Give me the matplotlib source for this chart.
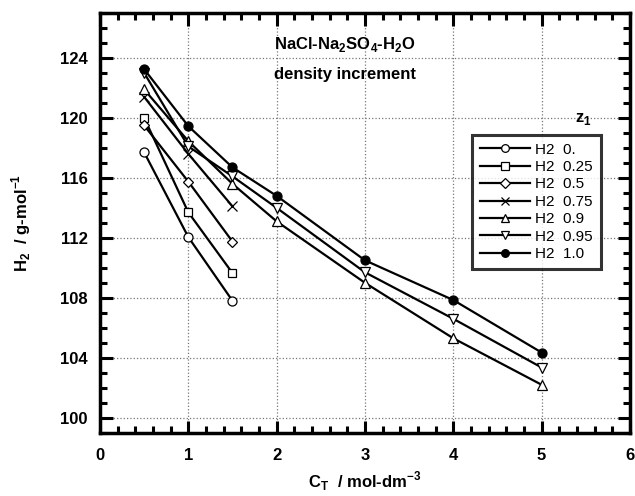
import matplotlib
matplotlib.use("Agg")
import matplotlib.pyplot as plt
from matplotlib.ticker import MultipleLocator

plt.rcParams['font.family'] = ['Liberation Sans', 'DejaVu Sans']

c_short = [0.5, 1.0, 1.5]
c_long = [0.5, 1.0, 1.5, 2.0, 3.0, 4.0, 5.0]

h_z000 = [117.7, 112.05, 107.8]
h_z025 = [120.0, 113.7, 109.65]
h_z050 = [119.5, 115.75, 111.75]
h_z075 = [121.4, 117.6, 114.1]
h_z090 = [121.9, 118.45, 115.6, 113.1, 109.0, 105.3, 102.2]
h_z095 = [123.0, 118.1, 116.1, 114.0, 109.7, 106.6, 103.35]
h_z100 = [123.25, 119.45, 116.7, 114.8, 110.5, 107.85, 104.35]

labels = ["H2  0.", "H2  0.25", "H2  0.5", "H2  0.75", "H2  0.9", "H2  0.95", "H2  1.0"]

fig = plt.figure(figsize=(6.35, 4.96), dpi=100)
ax = fig.add_axes([0.1575, 0.1276, 0.8345, 0.8462])

series = [
    (c_short, h_z000, 'o', 'white'),
    (c_short, h_z025, 's', 'white'),
    (c_short, h_z050, 'D', 'white'),
    (c_short, h_z075, 'x', 'black'),
    (c_long, h_z090, '^', 'white'),
    (c_long, h_z095, 'v', 'white'),
    (c_long, h_z100, 'o', 'black'),
]
for (xs, ys, m, fc), lab in zip(series, labels):
    ms = 7.5 if m in ('x', '^', 'v') else 6.5
    if m == 'D':
        ms = 5.5
    if m == 's':
        ms = 6
    ax.plot(xs, ys, color='black', lw=1.6, marker=m, ms=ms,
            mfc=fc, mec='black', mew=0.9, label=lab)

ax.set_xlim(0, 6)
ax.set_ylim(99, 127)
ax.xaxis.set_major_locator(MultipleLocator(1))
ax.xaxis.set_minor_locator(MultipleLocator(0.2))
ax.yaxis.set_minor_locator(MultipleLocator(1))
ax.set_yticks([100, 104, 108, 112, 116, 120, 124])
ax.tick_params(which='both', direction='in', top=True, right=True, width=2.2)
ax.tick_params(which='major', length=9, labelsize=12)
ax.tick_params(axis='x', which='major', pad=11)
ax.tick_params(axis='y', which='major', pad=9)
ax.tick_params(which='minor', length=5)
for t in ax.get_xticklabels() + ax.get_yticklabels():
    t.set_fontweight('bold')
for s in ax.spines.values():
    s.set_linewidth(2.5)
ax.grid(True, which='major', linestyle=':', color='#777777', lw=0.9)

fig.text(0.575, 0.018, r"C$_{\mathregular{T}}$  / mol-dm$^{\mathregular{-3}}$",
         ha='center', va='baseline', fontsize=12, fontweight='bold')
ax.set_ylabel(r"H$_{\mathregular{2}}$  / g-mol$^{\mathregular{-1}}$", fontsize=12, fontweight='bold', labelpad=19)

ax.text(2.77, 124.9, r"NaCl-Na$_{\mathregular{2}}$SO$_{\mathregular{4}}$-H$_{\mathregular{2}}$O",
        ha='center', va='center', fontsize=12, fontweight='bold')
ax.text(2.77, 122.9, "density increment", ha='center', va='center', fontsize=12, fontweight='bold')
ax.text(5.47, 119.9, r"z$_{\mathregular{1}}$", ha='center', va='center', fontsize=12, fontweight='bold')

leg = ax.legend(loc='upper left', bbox_to_anchor=(0.702, 0.709), frameon=True, fancybox=False,
                edgecolor='black', fontsize=11, handlelength=3.3, borderpad=0.5,
                labelspacing=0.22, handletextpad=0.35, borderaxespad=0, markerscale=0.85)
leg.get_frame().set_linewidth(2.2)

fig.savefig("out.png", dpi=100)
